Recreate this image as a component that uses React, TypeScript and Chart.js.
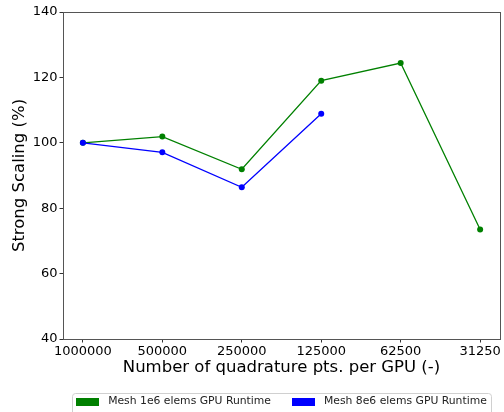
import { useEffect, useRef } from 'react';
import { Chart, registerables } from 'chart.js';

Chart.register(...registerables);

// Quadrature points per GPU (x categories)
const categories = ['1000000', '500000', '250000', '125000', '62500', '31250'];
// Strong scaling efficiency (%)
const mesh1e6 = [100, 101.9, 91.9, 119.0, 124.4, 73.5];
const mesh8e6 = [100, 97.1, 86.4, 108.9];
const yTicks = [40, 60, 80, 100, 120, 140];

const FONT = "'DejaVu Sans', sans-serif";

// Box around the plotting area (all four sides)
const framePlugin = {
  id: 'frame',
  afterDatasetsDraw(chart: any) {
    const { ctx, chartArea } = chart;
    ctx.save();
    ctx.strokeStyle = '#555';
    ctx.lineWidth = 1;
    ctx.strokeRect(
      Math.round(chartArea.left) + 0.5,
      Math.round(chartArea.top) + 0.5,
      Math.round(chartArea.right - chartArea.left),
      Math.round(chartArea.bottom - chartArea.top)
    );
    ctx.restore();
  },
};

// Framed legend below the axis title, centred on the plot area
const legendPlugin = {
  id: 'boxLegend',
  afterDraw(chart: any) {
    const { ctx, chartArea } = chart;
    const fontSize = 10.8;
    const boxW = 23;
    const boxH = 8;
    const gap = 9;
    const colSpacing = 21;
    const pad = 4;
    const top = 393;
    ctx.save();
    ctx.font = `${fontSize}px ${FONT}`;
    const items = chart.data.datasets.map((ds: any) => ({
      label: ds.label,
      color: ds.borderColor,
      w: ctx.measureText(ds.label).width,
    }));
    const total =
      items.reduce((s: number, it: any) => s + boxW + gap + it.w, 0) +
      colSpacing * (items.length - 1);
    const cx = (chartArea.left + chartArea.right) / 2;
    const left = cx - total / 2 - pad;
    const width = total + pad * 2;
    const height = 24;
    // frame
    ctx.fillStyle = 'rgba(255,255,255,0.8)';
    ctx.strokeStyle = '#d0d0d0';
    ctx.lineWidth = 1;
    ctx.beginPath();
    (ctx as any).roundRect(Math.round(left) + 0.5, top + 0.5, Math.round(width), height, 3);
    ctx.fill();
    ctx.stroke();
    // entries
    let x = left + pad;
    const midY = top + 8.5;
    ctx.textBaseline = 'middle';
    ctx.textAlign = 'left';
    items.forEach((it: any) => {
      ctx.fillStyle = it.color;
      ctx.fillRect(Math.round(x), Math.round(midY - boxH / 2), boxW, boxH);
      x += boxW + gap;
      ctx.fillStyle = '#222';
      ctx.fillText(it.label, x, midY);
      x += it.w + colSpacing;
    });
    ctx.restore();
  },
};

export default function App() {
  const canvasRef = useRef<HTMLCanvasElement | null>(null);

  useEffect(() => {
    document.body.style.margin = '0';
    const canvas = canvasRef.current;
    if (!canvas) return;

    const toPoints = (vals: number[]) => vals.map((y, i) => ({ x: i, y }));

    const chart = new Chart(canvas, {
      type: 'line',
      data: {
        datasets: [
          {
            label: 'Mesh 1e6 elems GPU Runtime',
            data: toPoints(mesh1e6),
            borderColor: '#008000',
            backgroundColor: '#008000',
            borderWidth: 1.3,
            pointRadius: 3,
            pointBorderWidth: 0,
            pointBackgroundColor: '#008000',
            tension: 0,
            order: 2,
          },
          {
            label: 'Mesh 8e6 elems GPU Runtime',
            data: toPoints(mesh8e6),
            borderColor: '#0000ff',
            backgroundColor: '#0000ff',
            borderWidth: 1.3,
            pointRadius: 3,
            pointBorderWidth: 0,
            pointBackgroundColor: '#0000ff',
            tension: 0,
            order: 1,
          },
        ],
      },
      options: {
        responsive: false,
        animation: false,
        devicePixelRatio: 1,
        layout: { padding: { left: 0, top: 12, right: 2, bottom: 34 } },
        plugins: {
          legend: { display: false },
          tooltip: { enabled: false },
        },
        scales: {
          x: {
            type: 'linear',
            min: -0.25,
            max: 5.25,
            afterBuildTicks: (scale: any) => {
              scale.ticks = categories.map((_, i) => ({ value: i }));
            },
            afterFit: (scale: any) => {
              scale.height = 39;
              scale.paddingLeft = 0;
              scale.paddingRight = 0;
            },
            grid: {
              drawOnChartArea: false,
              drawTicks: true,
              tickLength: 3.5,
              tickColor: '#333',
            },
            border: { display: false },
            ticks: {
              autoSkip: false,
              maxRotation: 0,
              padding: 1,
              color: '#000',
              font: { family: FONT, size: 13 },
              callback: (v: any) => categories[v] ?? '',
            },
            title: {
              display: true,
              text: 'Number of quadrature pts. per GPU (-)',
              color: '#000',
              font: { family: FONT, size: 16.5 },
              padding: { top: 0, bottom: 0 },
            },
          },
          y: {
            type: 'linear',
            min: 40,
            max: 140,
            afterBuildTicks: (scale: any) => {
              scale.ticks = yTicks.map((v) => ({ value: v }));
            },
            afterFit: (scale: any) => {
              scale.width = 63;
              scale.paddingTop = 0;
              scale.paddingBottom = 0;
            },
            grid: {
              drawOnChartArea: false,
              drawTicks: true,
              tickLength: 3.5,
              tickColor: '#333',
            },
            border: { display: false },
            ticks: {
              padding: 2,
              color: '#000',
              font: { family: FONT, size: 13 },
            },
            title: {
              display: true,
              text: 'Strong Scaling (%)',
              color: '#000',
              font: { family: FONT, size: 16.5 },
              padding: { top: 10, bottom: 0 },
            },
          },
        },
      },
      plugins: [framePlugin, legendPlugin],
    } as any);

    return () => chart.destroy();
  }, []);

  return (
    <div style={{ width: 504, height: 412, position: 'relative', overflow: 'hidden', background: '#fff' }}>
      <canvas ref={canvasRef} width={504} height={412} style={{ display: 'block' }} />
    </div>
  );
}
